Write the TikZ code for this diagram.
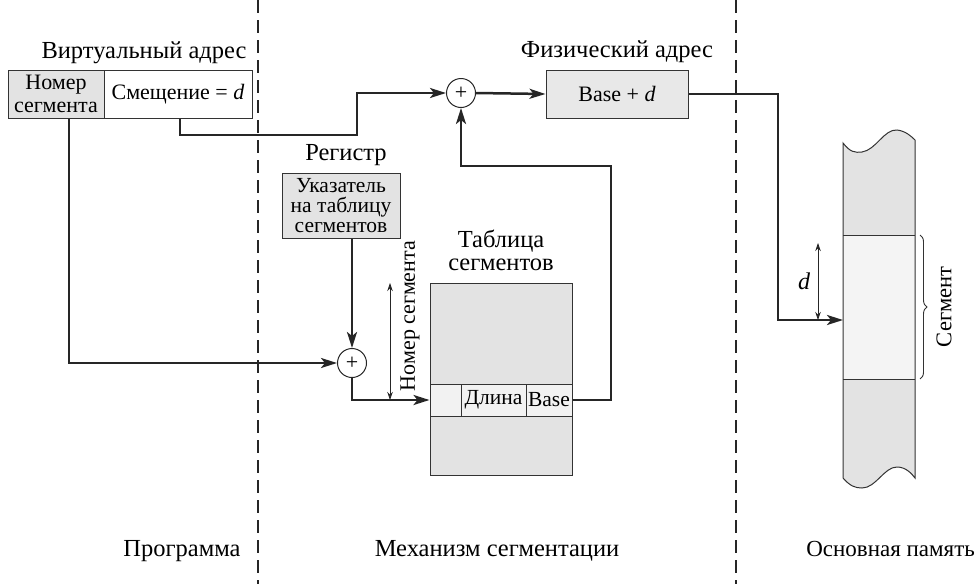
\documentclass[tikz,border=0pt]{standalone}
\usepackage{fontspec}
\setmainfont{Liberation Serif}
\usetikzlibrary{arrows.meta,decorations.pathreplacing}
\tikzset{
  lbl/.style={font=\fontsize{24.5}{26}\selectfont, inner sep=0pt},
  boxtxt/.style={font=\fontsize{22}{24}\selectfont},
  gbox/.style={draw=black!80, line width=1pt, fill=gray!22, inner sep=0pt, align=center, boxtxt},
  wbox/.style={draw=black!80, line width=1pt, fill=white, inner sep=0pt, align=center, boxtxt},
  adder/.style={circle, draw=black!85, line width=1pt, fill=white, minimum size=29pt, inner sep=0pt, font=\fontsize{22}{22}\selectfont},
  arr/.style={line width=2.5pt, draw=black!85, -{Stealth[length=16pt,width=10pt,inset=4pt]}},
  dim/.style={line width=0.8pt, draw=black!85, {Stealth[length=8pt,width=5.5pt]}-{Stealth[length=8pt,width=5.5pt]}},
  divider/.style={line width=2.2pt, draw=black!85, dash pattern=on 13pt off 7pt},
}
\begin{document}
\begin{tikzpicture}[x=1pt,y=-1pt]
\useasboundingbox (0,0) rectangle (977,584);

% dashed dividers
\draw[divider] (258,0) -- (258,584);
\draw[divider] (736,0) -- (736,584);

% virtual address
\node[lbl, anchor=base] (vlab) at (144,58) {Виртуальный адрес};
\node[gbox, minimum width=96pt, minimum height=48pt, font=\fontsize{22}{23}\selectfont] (vl) at (56,94) {Номер\\сегмента};
\node[wbox, minimum width=148pt, minimum height=48pt] (vr) at (178,94) {Смещение = \textit{d}};

% physical address
\node[lbl, anchor=base] (plab) at (617,57) {Физический адрес};
\node[gbox, minimum width=142pt, minimum height=48pt, fill=gray!18] (pb) at (617,94) {Base + \textit{d}};

% adders
\node[adder] (c1) at (461,93) {+};
\node[adder] (c2) at (352,363) {+};

% register
\node[lbl, anchor=base] (rlab) at (346,160) {Регистр};
\node[gbox, minimum width=118pt, minimum height=65pt, font=\fontsize{21.5}{20}\selectfont] (reg) at (341,205.5) {Указатель\\на таблицу\\сегментов};

% segment table
\node[lbl, anchor=base] (tlab) at (501,247) {Таблица};
\node[lbl, anchor=base] (tlab2) at (501,270) {сегментов};
\node[draw=black!80, line width=1pt, fill=gray!22, minimum width=142pt, minimum height=192pt, inner sep=0pt] (tab) at (501,379) {};
\node[gbox, fill=gray!10, minimum width=31pt, minimum height=32pt] (r0) at (445.5,400) {};
\node[gbox, fill=gray!10, minimum width=65pt, minimum height=32pt, font=\fontsize{21.5}{23}\selectfont] (rl) at (493.5,400) {Длина};
\node[gbox, fill=gray!10, minimum width=46pt, minimum height=32pt, font=\fontsize{21.5}{23}\selectfont] (rb) at (549,400) {Base};

% segment number dimension
\draw[dim] (390,283) -- (390,400);
\node[lbl, rotate=90, font=\fontsize{22}{24}\selectfont] (nlab) at (410,316) {Номер сегмента};

% main memory
\fill[gray!22] (843,143) .. controls (850,152) and (855,153) .. (862,152) .. controls (876,150) and (884,129) .. (897,130) .. controls (906,131) and (912,137) .. (915,140)
  -- (915,478) .. controls (912,474) and (906,467) .. (897,467) .. controls (884,467) and (876,488) .. (862,488) .. controls (855,488) and (850,486) .. (843,478) -- cycle;
\fill[gray!9] (843,235) rectangle (915,379);
\draw[draw=black!80, line width=1pt] (843,143) .. controls (850,152) and (855,153) .. (862,152) .. controls (876,150) and (884,129) .. (897,130) .. controls (906,131) and (912,137) .. (915,140)
  -- (915,478) .. controls (912,474) and (906,467) .. (897,467) .. controls (884,467) and (876,488) .. (862,488) .. controls (855,488) and (850,486) .. (843,478) -- cycle;
\draw[draw=black!80, line width=1pt] (843,235) -- (915,235);
\draw[draw=black!80, line width=1pt] (843,379) -- (915,379);
\coordinate (m1) at (843,320);

% offset d dimension
\draw[dim] (818,243) -- (818,320);
\node[lbl, font=\fontsize{24}{26}\selectfont\itshape] (dlab) at (804,281) {d};

% segment brace
\draw[draw=black!80, line width=0.9pt, decorate, decoration={brace, amplitude=7pt}] (920,235) -- (920,379);
\node[lbl, rotate=90, font=\fontsize{22.5}{24}\selectfont] (slab) at (944,307) {Сегмент};

% connectors
\draw[arr] ([xshift=13pt]vl.south) |- (c2.west);
\coordinate (k1) at (357,135);
\draw[arr] ([xshift=2pt]vr.south) |- (k1) |- (c1.west);
\draw[arr] (c1.east) -- (pb.west);
\coordinate (k2) at (778,94);
\draw[arr] (pb.east) -- (k2) |- (m1);
\draw[arr] (reg.south -| c2) -- (c2.north);
\draw[arr] (c2.south) |- (r0.west);
\coordinate (k3) at (611,166);
\draw[arr] (rb.east) -| (k3) -| (c1.south);

% bottom labels
\node[lbl, anchor=base] (b1) at (182,556) {Программа};
\node[lbl, anchor=base] (b2) at (497,556) {Механизм сегментации};
\node[lbl, anchor=base east, font=\fontsize{23}{25}\selectfont] (b3) at (975,556) {Основная память};
\end{tikzpicture}
\end{document}
